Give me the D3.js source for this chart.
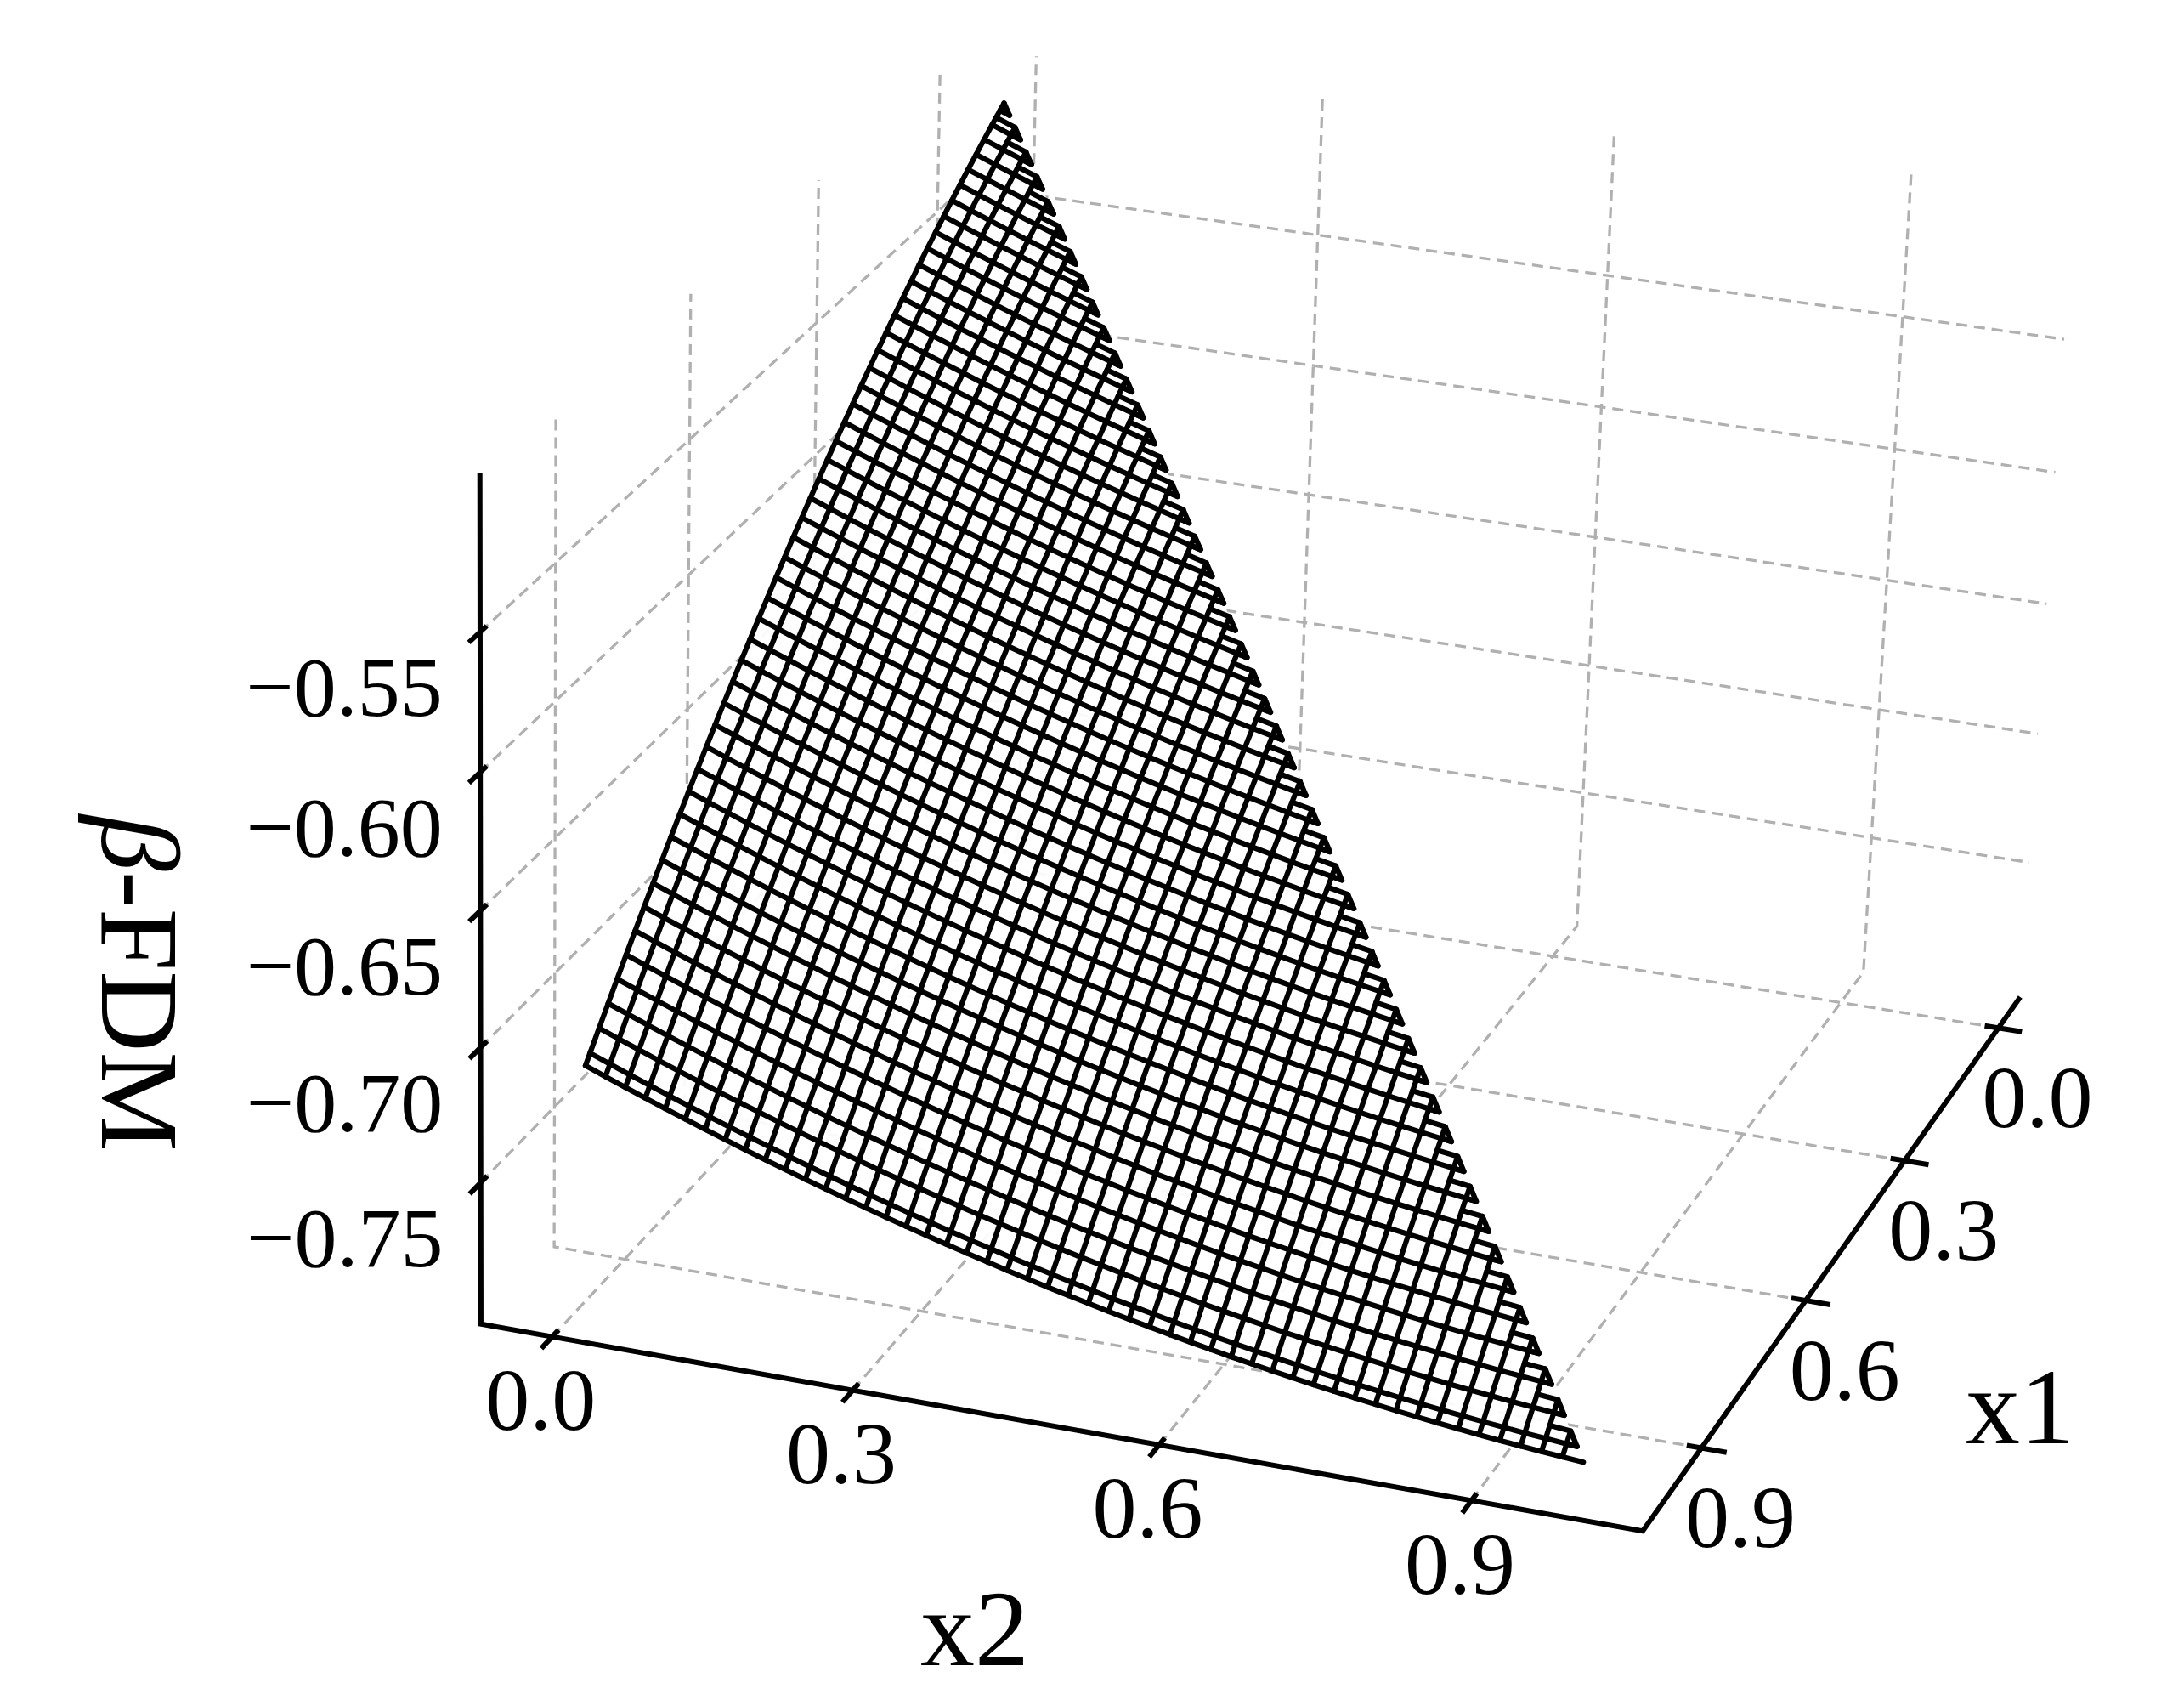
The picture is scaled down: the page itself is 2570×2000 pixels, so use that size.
<!DOCTYPE html><html><head><meta charset="utf-8"><script src="https://cdn.jsdelivr.net/npm/d3@7"></script></head><body style="margin:0;background:#fff"><svg id="s" width="2570" height="2000"></svg><script>
// ---- chart values ----
const x1Ticks=[0,.3,.6,.9];
const x2Ticks=[0,.3,.6,.9];
const zTicks=[-.55,-.6,-.65,-.7,-.75];
// beta-FDM along the edge x2 = 0, for x1 = 0.00, 0.01 ... 0.99
const zAlongX1=[-.5025,-.50385,-.50521,-.50659,-.50799,-.5094,-.51083,-.51228,-.51374,-.51522,-.51671,-.51822,-.51975,-.52129,-.52285,-.52442,-.52601,-.52762,-.52924,-.53088,-.53254,-.53421,-.5359,-.5376,-.53933,-.54106,-.54282,-.54458,-.54637,-.54817,-.54999,-.55182,-.55367,-.55554,-.55742,-.55932,-.56124,-.56317,-.56512,-.56708,-.56906,-.57106,-.57307,-.5751,-.57714,-.5792,-.58128,-.58337,-.58548,-.58761,-.58975,-.59191,-.59408,-.59627,-.59848,-.6007,-.60294,-.6052,-.60747,-.60976,-.61206,-.61438,-.61672,-.61907,-.62144,-.62382,-.62622,-.62864,-.63107,-.63352,-.63599,-.63847,-.64097,-.64348,-.64602,-.64856,-.65113,-.6537,-.6563,-.65891,-.66154,-.66418,-.66684,-.66952,-.67221,-.67492,-.67765,-.68039,-.68315,-.68592,-.68871,-.69152,-.69434,-.69718,-.70003,-.7029,-.70579,-.70869,-.71161,-.71455];
// fall of beta-FDM when moving along x2, for x2 = 0.00, 0.01 ... 0.99
const dropAlongX2=[0,.0014,.0028,.00418,.00555,.0069,.00825,.00959,.01091,.01222,.01352,.01481,.01608,.01735,.0186,.01984,.02107,.02229,.0235,.02469,.02588,.02705,.02821,.02936,.03049,.03162,.03273,.03383,.03492,.036,.03707,.03813,.03917,.0402,.04122,.04223,.04323,.04422,.04519,.04615,.0471,.04804,.04897,.04989,.05079,.05168,.05257,.05344,.05429,.05514,.05597,.0568,.05761,.05841,.0592,.05997,.06074,.06149,.06224,.06297,.06368,.06439,.06509,.06577,.06644,.0671,.06775,.06839,.06901,.06963,.07023,.07082,.0714,.07197,.07252,.07307,.0736,.07412,.07463,.07513,.07562,.07609,.07655,.07701,.07744,.07787,.07829,.07869,.07909,.07947,.07984,.0802,.08054,.08088,.0812,.08151,.08182,.0821,.08238,.08265];
// axis limits
const xLimits=[-.072,1.062];
const zLimits=[-.803,-.494];
// ---- view ----
const cam=[[-591.83,1147.83,-14.28,1221.46],[430.71,158.40,-663.21,-1546.54],[-.089578,-.031676,-.02386,1]];
const xIndex=d3.scaleLinear().domain([0,99]).range([0,.99]);
const zView=d3.scaleLinear().domain([0,1]).range([0,5]);
function P(x,y,z){const h=[x,y,zView(z),1],d=h.reduce((s,v,k)=>s+v*cam[2][k],0);
 return [h.reduce((s,v,k)=>s+v*cam[0][k],0)/d,h.reduce((s,v,k)=>s+v*cam[1][k],0)/d];}
const [lo,hi]=xLimits,[zF,zA]=zLimits,zW=-.497;
const svg=d3.select('#s'),L=d3.line();
// grid
const G=svg.append('g').attr('fill','none').attr('stroke','#b0b0b0').attr('stroke-width',3.3).attr('stroke-dasharray','13,8');
x1Ticks.forEach(v=>G.append('path').attr('d',L([P(v,hi,zF),P(v,lo,zF),P(v,lo,zW)])));
x2Ticks.forEach(v=>G.append('path').attr('d',L([P(hi,v,zF),P(lo,v,zF),P(lo,v,zW)])));
zTicks.forEach(z=>G.append('path').attr('d',L([P(hi,lo,z),P(lo,lo,z),P(lo,hi,z)])));
// axes
const A=svg.append('g').attr('fill','none').attr('stroke','#000').attr('stroke-width',6);
A.append('path').attr('d',L([P(hi,lo,zA),P(hi,lo,zF),P(hi,hi,zF),P(lo,hi,zF)]));
const tIn=.014,tOut=.024;
x2Ticks.forEach(v=>A.append('path').attr('d',L([P(hi-tIn,v,zF),P(hi+tOut,v,zF)])));
x1Ticks.forEach(v=>A.append('path').attr('d',L([P(v,hi-tIn,zF),P(v,hi+tOut,zF)])));
zTicks.forEach(z=>A.append('path').attr('d',L([P(hi-tIn,lo,z),P(hi+tOut,lo,z)])));
// surface
const node=(i,j)=>P(xIndex(i),xIndex(j),zAlongX1[i]-dropAlongX2[j]);
const rows=[...d3.range(0,100,2),99],cols=d3.range(0,100,2);
const S=svg.append('g');
const F=S.append('g').attr('fill','#fff').attr('fill-opacity',.93).attr('stroke','none');
for(let k=0;k<rows.length-1;k++)cols.forEach(c=>{const r=rows[k],r2=rows[k+1],c2=c+2;
 if(c2<r)F.append('path').attr('d',L([node(r,c),node(r,c2),node(r2,c2),node(r2,c)])+'Z');
 else if(c2==r)F.append('path').attr('d',L([node(r,c),node(r,c+1),node(r+1,c2),node(r2,c2),node(r2,c)])+'Z');
 else if(c==r&&r2==r+2)F.append('path').attr('d',L([node(r+1,c),node(r+2,c+1),node(r+2,c)])+'Z');
});
const M=S.append('g').attr('fill','none').attr('stroke','#000').attr('stroke-width',6.2).attr('stroke-linecap','round').attr('stroke-linejoin','round');
rows.forEach(r=>{if(r==0)return;const e=r==99?98:r-1;const pts=cols.filter(c=>c<e).map(c=>node(r,c));pts.push(node(r,e));M.append('path').attr('d',L(pts));});
cols.forEach(c=>{if(c>=98)return;
 M.append('path').attr('d',L([node(c+1,c),...rows.filter(r=>r>c+1).map(r=>node(r,c))]));
 M.append('path').attr('d',L([node(c+1,Math.max(c-2,0)),node(c+1,c),node(c+2,c+1),node(c+2,c)]));});
// text
const tx=svg.append('g').attr('font-family','Liberation Serif').attr('fill','#000').attr('text-anchor','middle').attr('dominant-baseline','central');
x2Ticks.forEach(v=>{const q=P(hi,v,zF);tx.append('text').attr('x',q[0]-13.5).attr('y',q[1]+74).attr('font-size',104).text(v.toFixed(1));});
x1Ticks.forEach(v=>{const q=P(v,hi,zF);tx.append('text').attr('x',q[0]+46).attr('y',q[1]+81).attr('font-size',104).text(v.toFixed(1));});
zTicks.forEach(z=>{const q=P(hi,lo,z);tx.append('text').attr('x',q[0]-160).attr('y',q[1]+65).attr('font-size',100).text('\u2212'+(-z).toFixed(2));});
tx.append('text').attr('x',1147).attr('y',1916).attr('font-size',128).text('x2');
tx.append('text').attr('x',2377).attr('y',1655).attr('font-size',128).text('x1');
const yl=tx.append('text').attr('transform','translate(165,1157) rotate(90)').attr('font-size',132);
yl.append('tspan').attr('font-style','italic').text('\u03b2');yl.append('tspan').text('-FDM');
</script></body></html>
